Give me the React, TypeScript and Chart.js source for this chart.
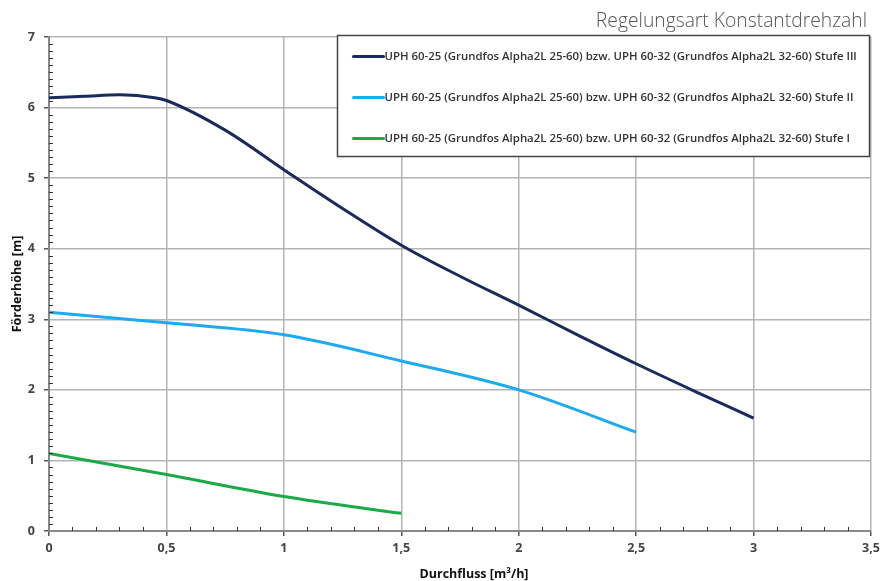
import React, { useEffect, useRef } from "react";
import { Chart, registerables } from "chart.js";

Chart.register(...registerables);

const flowIII = [0, 0.15, 0.3, 0.45, 0.5, 0.75, 1, 1.25, 1.5, 1.75, 2, 2.25, 2.5, 2.75, 3];
const headIII = [6.14, 6.16, 6.18, 6.14, 6.1, 5.68, 5.12, 4.57, 4.05, 3.61, 3.2, 2.78, 2.37, 1.98, 1.6];
const flowII = [0, 0.5, 1, 1.5, 2, 2.5];
const headII = [3.1, 2.95, 2.78, 2.41, 2.0, 1.4];
const flowI = [0, 0.5, 1, 1.5];
const headI = [1.1, 0.8, 0.49, 0.25];

const labelIII = "UPH 60-25 (Grundfos Alpha2L 25-60) bzw. UPH 60-32 (Grundfos Alpha2L 32-60) Stufe III";
const labelII = "UPH 60-25 (Grundfos Alpha2L 25-60) bzw. UPH 60-32 (Grundfos Alpha2L 32-60) Stufe II";
const labelI = "UPH 60-25 (Grundfos Alpha2L 25-60) bzw. UPH 60-32 (Grundfos Alpha2L 32-60) Stufe I";

const chartTitle = "Regelungsart Konstantdrehzahl";
const xTitle = "Durchfluss [m³/h]";
const yTitle = "Förderhöhe [m]";

const colors = ["#1b2a5c", "#1eaaf0", "#1aaa48"];

const toPts = (xs: number[], ys: number[]) => xs.map((x, i) => ({ x, y: ys[i] }));

const decorPlugin = {
  id: "decor",
  afterDraw(chart: any) {
    const ctx = chart.ctx;
    const area = chart.chartArea;
    const xs = chart.scales.x;
    const ys = chart.scales.y;
    ctx.save();
    // minor ticks
    ctx.strokeStyle = "#333";
    ctx.lineWidth = 1;
    ctx.beginPath();
    for (let i = 1; i < 35; i++) {
      if (i % 5 === 0) continue;
      const px = Math.round(xs.getPixelForValue(i / 10)) + 0.5;
      ctx.moveTo(px, area.bottom);
      ctx.lineTo(px, area.bottom - 4);
    }
    for (let i = 1; i < 70; i++) {
      if (i % 10 === 0) continue;
      const py = Math.round(ys.getPixelForValue(i / 10)) + 0.5;
      ctx.moveTo(area.left, py);
      ctx.lineTo(area.left + 4, py);
    }
    ctx.stroke();

    // title
    ctx.fillStyle = "#555";
    ctx.font = '300 19.3px "Open Sans"';
    ctx.textAlign = "right";
    ctx.textBaseline = "alphabetic";
    ctx.fillText(chartTitle, 867, 27);

    // axis titles
    ctx.fillStyle = "#111";
    ctx.font = 'bold 12.5px "Open Sans"';
    ctx.textAlign = "center";
    ctx.textBaseline = "middle";
    ctx.fillText(xTitle, 474, 574);
    ctx.save();
    ctx.translate(17, (area.top + area.bottom) / 2);
    ctx.rotate(-Math.PI / 2);
    ctx.fillText(yTitle, 0, 0);
    ctx.restore();

    // legend
    const bx = 337.5;
    const by = 35.5;
    const bw = 532;
    const bh = 121;
    ctx.fillStyle = "#fff";
    ctx.fillRect(bx, by, bw, bh);
    ctx.strokeStyle = "#444";
    ctx.lineWidth = 1.5;
    ctx.strokeRect(bx, by, bw, bh);
    ctx.font = '600 11.4px "Open Sans"';
    ctx.textAlign = "left";
    ctx.textBaseline = "middle";
    chart.data.datasets.forEach((ds: any, i: number) => {
      const y = by + 21 + i * 41;
      ctx.strokeStyle = ds.borderColor;
      ctx.lineWidth = 3;
      ctx.lineCap = "round";
      ctx.beginPath();
      ctx.moveTo(bx + 16, y);
      ctx.lineTo(bx + 46, y);
      ctx.stroke();
      ctx.fillStyle = "#333";
      ctx.fillText(ds.label, bx + 47, y + 0.5);
    });
    ctx.restore();
  },
};

export default function App() {
  const ref = useRef<HTMLCanvasElement>(null);
  useEffect(() => {
    if (!ref.current) return;
    const chart = new Chart(ref.current, {
      type: "line",
      data: {
        datasets: [
          { label: labelIII, data: toPts(flowIII, headIII), borderColor: colors[0], backgroundColor: colors[0] },
          { label: labelII, data: toPts(flowII, headII), borderColor: colors[1], backgroundColor: colors[1] },
          { label: labelI, data: toPts(flowI, headI), borderColor: colors[2], backgroundColor: colors[2] },
        ].map((d) => ({
          ...d,
          borderWidth: 3,
          pointRadius: 0,
          cubicInterpolationMode: "monotone" as const,
          fill: false,
        })),
      },
      options: {
        animation: false,
        responsive: false,
        maintainAspectRatio: false,
        layout: { padding: { top: 37, right: 9, left: 0, bottom: 0 } },
        plugins: {
          legend: { display: false },
          title: { display: false },
          tooltip: { enabled: false },
        },
        scales: {
          x: {
            type: "linear",
            min: 0,
            max: 3.5,
            ticks: {
              stepSize: 0.5,
              padding: 5,
              color: "#444",
              font: { family: "Open Sans", size: 12.5, weight: "bold" },
              maxRotation: 0,
              callback: (v: any) => String(v).replace(".", ","),
            },
            grid: { color: "#b4b4b4", lineWidth: 1.5, tickColor: "#555", tickLength: 5 },
            border: { color: "#888", width: 2 },
            afterFit: (s: any) => {
              s.height = 50;
              s.paddingLeft = 0;
              s.paddingRight = 0;
            },
          },
          y: {
            type: "linear",
            min: 0,
            max: 7,
            ticks: {
              stepSize: 1,
              padding: 9,
              color: "#444",
              font: { family: "Open Sans", size: 12.5, weight: "bold" },
            },
            grid: { color: "#b4b4b4", lineWidth: 1.5, tickColor: "#555", tickLength: 5 },
            border: { color: "#888", width: 2 },
            afterFit: (s: any) => {
              s.width = 49;
              s.paddingTop = 0;
              s.paddingBottom = 0;
            },
          },
        },
      },
      plugins: [decorPlugin],
    });
    return () => chart.destroy();
  }, []);
  return (
    <div style={{ position: "fixed", left: 0, top: 0, width: 880, height: 581, background: "#fff" }}>
      <canvas ref={ref} width={880} height={581} style={{ width: 880, height: 581 }} />
    </div>
  );
}
